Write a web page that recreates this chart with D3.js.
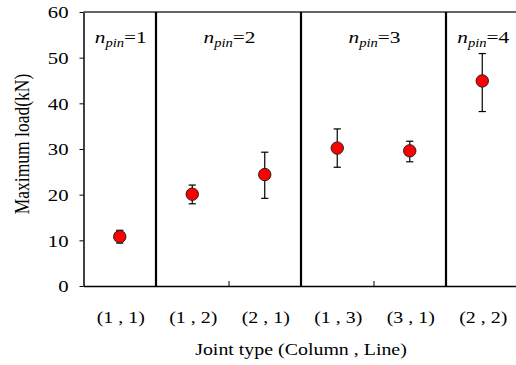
<!DOCTYPE html>
<html><head><meta charset="utf-8">
<script src="https://cdn.jsdelivr.net/npm/d3@7"></script>
</head><body style="margin:0">
<svg id="c" width="516" height="365" font-family="Liberation Serif"></svg>
<script>
const categories = ["(1 , 1)","(1 , 2)","(2 , 1)","(1 , 3)","(3 , 1)","(2 , 2)"];
const meanLoad = [10.8, 20.1, 24.4, 30.2, 29.6, 44.9];
const errLow  = [9.4, 18.0, 19.2, 26.0, 27.2, 38.2];
const errHigh = [12.2, 22.1, 29.3, 34.4, 31.7, 50.9];
const groupLabels = ["1","2","3","4"];
const groupSpans = [[0,1],[1,3],[3,5],[5,6]];
const yTicks = [0,10,20,30,40,50,60];

const FONT = "Liberation Serif";
const SX = 1.22; // horizontal stretch of the original picture
const svg = d3.select("#c");
const L=83.5, R=518.5, T=12, B=286;
const x = d3.scaleLinear().domain([0,6]).range([L,R]);
const y = d3.scaleLinear().domain([0,60]).range([B,T]);

// top border
svg.append("line").attr("x1",L).attr("x2",R).attr("y1",T).attr("y2",T)
  .attr("stroke","#333").attr("stroke-width",1.6);

// separators
[1,3,5].forEach(b=>{
  svg.append("line").attr("x1",x(b)).attr("x2",x(b)).attr("y1",T).attr("y2",B)
    .attr("stroke","#000").attr("stroke-width",2.2);
});
svg.append("line").attr("x1",R).attr("x2",R).attr("y1",T).attr("y2",B)
    .attr("stroke","#000").attr("stroke-width",2);

// y axis
const yAx = svg.append("g").attr("transform",`translate(${L},0)`)
  .call(d3.axisLeft(y).tickValues(yTicks).tickSize(4).tickPadding(15).tickSizeOuter(0));
yAx.attr("font-family",FONT).attr("font-size",17);
yAx.select(".domain").attr("stroke","#000").attr("stroke-width",1.5);
yAx.selectAll(".tick line").attr("stroke","#000");
yAx.selectAll("text").attr("font-family",FONT).attr("font-size",17).attr("fill","#000")
  .attr("x",0).attr("dy","0.35em").attr("text-anchor","end")
  .attr("transform",`translate(-15,0) scale(${SX},1)`);

// x axis
const xAx = svg.append("g").attr("transform",`translate(0,${B})`)
  .call(d3.axisBottom(x).tickValues([2,4]).tickSize(-5).tickFormat("").tickSizeOuter(0));
xAx.select(".domain").attr("stroke","#000").attr("stroke-width",1.5);
xAx.selectAll(".tick line").attr("stroke","#000");

// category labels
categories.forEach((c,i)=>{
  svg.append("text").attr("transform",`translate(${x(i+0.5)+1},323) scale(${SX*0.96},1)`)
    .attr("text-anchor","middle").attr("font-family",FONT).attr("font-size",17).text(c);
});

// axis titles
svg.append("text").attr("transform",`translate(301,355) scale(${SX*0.96},1)`).attr("text-anchor","middle")
  .attr("font-family",FONT).attr("font-size",17).text("Joint type (Column , Line)");
svg.append("text").attr("transform",`translate(29,144) scale(${SX},1) rotate(-90)`).attr("text-anchor","middle")
  .attr("font-family",FONT).attr("font-size",17.5).text("Maximum load(kN)");

// group labels
groupSpans.forEach((s,i)=>{
  const t = svg.append("text").attr("transform",`translate(${x((s[0]+s[1])/2)+1},43) scale(${SX},1)`)
    .attr("text-anchor","middle").attr("font-family",FONT).attr("font-size",17.5);
  t.append("tspan").attr("font-style","italic").text("n");
  t.append("tspan").attr("font-style","italic").attr("font-size",12).attr("dy",4).text("pin");
  t.append("tspan").attr("dy",-4).text("="+groupLabels[i]);
});

// error bars
const data = categories.map((c,i)=>({i, m:meanLoad[i], lo:errLow[i], hi:errHigh[i]}));
const g = svg.append("g");
data.forEach(d=>{
  const cx = x(d.i+0.5);
  g.append("line").attr("x1",cx).attr("x2",cx).attr("y1",y(d.lo)).attr("y2",y(d.hi)).attr("stroke","#000").attr("stroke-width",1.2);
  [d.lo,d.hi].forEach(v=>g.append("line").attr("x1",cx-3.6).attr("x2",cx+3.6).attr("y1",y(v)).attr("y2",y(v)).attr("stroke","#000").attr("stroke-width",1.2));
});
g.selectAll("circle").data(data).enter().append("circle")
  .attr("cx",d=>x(d.i+0.5)).attr("cy",d=>y(d.m)).attr("r",6.2)
  .attr("fill","#ff0000").attr("stroke","#222").attr("stroke-width",1);
</script></body></html>
